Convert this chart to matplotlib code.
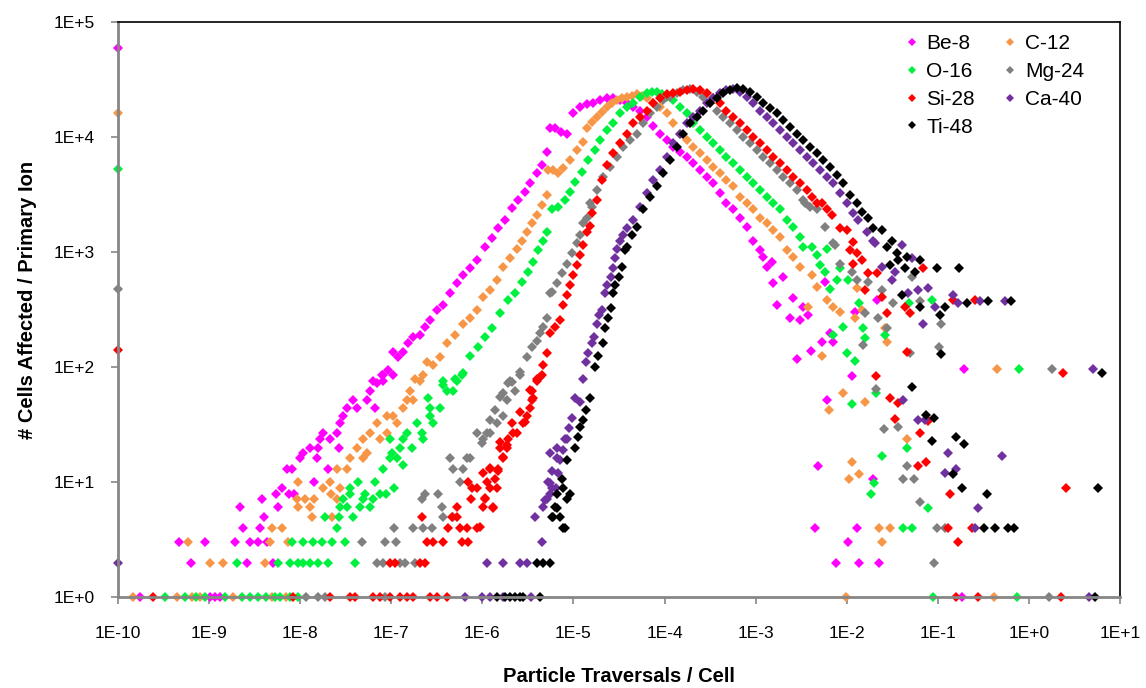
import numpy as np
import matplotlib.pyplot as plt

# values, stored as (log10 traversals, log10 cells)
be8 = [(-10, 4.77),
       (-9.76, 0), (-8.99, 0), (-8.94, 0), (-8.88, 0), (-0.74, 0),
       (-9.20, .30), (-8.58, .30), (-8.30, .30),
       (-9.33, .48), (-9.05, .48), (-8.72, .48), (-8.55, .48), (-8.46, .48), (-8.36, .48),
       (-8.63, .60), (-8.44, .60), (-8.40, .70), (-8.66, .78), (-8.24, .78), (-8.42, .85),
       (-8.27, .90), (-8.12, .90), (-8.07, .90), (-8.20, .95), (-7.85, 1.0),
       (-8.14, 1.11), (-8.09, 1.11), (-7.69, 1.11), (-8.0, 1.21), (-7.82, 1.21), (-7.97, 1.25),
       (-7.89, 1.30), (-7.80, 1.30), (-7.57, 1.30), (-7.78, 1.37), (-7.67, 1.37),
       (-7.75, 1.43), (-7.60, 1.43), (-7.56, 1.51), (-7.53, 1.57),
       (-7.49, 1.64), (-7.38, 1.64), (-7.18, 1.64), (-7.42, 1.71), (-7.27, 1.71),
       (-7.23, 1.79), (-7.20, 1.88), (-7.09, 1.88), (-7.09, 1.93), (-6.98, 1.93),
       (-7.16, 1.86), (-7.10, 1.93), (-7.04, 1.97), (-6.98, 2.13), (-6.93, 2.09), (-6.87, 2.13),
       (-6.82, 2.21), (-6.76, 2.26), (-6.68, 2.28), (-6.63, 2.35), (-6.58, 2.41), (-6.50, 2.50),
       (-6.43, 2.54), (-6.36, 2.64), (-6.28, 2.73), (-6.21, 2.80), (-6.14, 2.86), (-6.06, 2.93),
       (-5.97, 3.04), (-5.89, 3.12), (-5.83, 3.21), (-5.75, 3.28), (-5.68, 3.38), (-5.61, 3.45),
       (-5.53, 3.52), (-5.48, 3.60), (-5.40, 3.69), (-5.35, 3.76), (-5.29, 3.87), (-5.26, 4.08),
       (-5.20, 4.08), (-5.14, 4.04), (-5.07, 4.03), (-5.01, 4.21), (-4.93, 4.26), (-4.85, 4.29),
       (-4.79, 4.30), (-4.71, 4.32), (-4.63, 4.34), (-4.57, 4.34), (-4.49, 4.32), (-4.41, 4.30),
       (-4.35, 4.26), (-4.27, 4.23), (-4.19, 4.17), (-4.13, 4.10), (-4.05, 4.03), (-3.97, 3.97),
       (-3.91, 3.91), (-3.83, 3.87), (-3.75, 3.83), (-3.69, 3.77), (-3.61, 3.71), (-3.53, 3.65),
       (-3.47, 3.60), (-3.39, 3.51), (-3.32, 3.43), (-3.25, 3.37), (-3.17, 3.30), (-3.10, 3.22),
       (-3.03, 3.10), (-2.95, 3.02), (-2.92, 2.96), (-2.88, 2.87), (-2.82, 2.91), (-2.81, 2.73),
       (-2.70, 2.78), (-2.76, 2.54), (-2.59, 2.60), (-2.62, 2.43), (-2.51, 2.41), (-2.43, 2.45),
       (-2.48, 2.52), (-2.24, 2.74), (-1.67, 2.58), (-1.91, 2.48), (-2.18, 2.30), (-2.27, 2.22),
       (-2.15, 2.22), (-2.39, 2.14), (-2.55, 2.07), (-1.94, 1.92), (-2.22, 1.71), (-1.71, 1.03),
       (-2.31, 1.14), (-2.35, .60), (-1.89, .60), (-1.99, .48), (-2.12, .30), (-1.86, .30),
       (-1.65, .30), (-0.71, 1.98)]

c12 = [(-10, 4.21),
       (-9.84, 0), (-9.35, 0), (-9.19, 0), (-9.10, 0), (-8.74, 0), (-8.31, 0), (-8.16, 0),
       (-2.01, 0), (-0.38, 0),
       (-8.99, .30), (-8.85, .30), (-8.39, .30), (-9.23, .48), (-8.33, .48), (-8.13, .48),
       (-8.31, .60), (-8.20, .60), (-7.87, .70), (-7.65, .70), (-8.02, .78), (-7.89, .78),
       (-8.04, .85), (-7.95, .85), (-7.85, .85), (-7.60, .85), (-7.66, .90), (-7.75, .95),
       (-7.56, .95), (-8.02, 1.0), (-7.67, 1.0), (-7.60, 1.11), (-7.49, 1.11), (-7.45, 1.21),
       (-7.31, 1.21), (-7.27, 1.25), (-7.38, 1.30), (-7.31, 1.37), (-7.12, 1.37), (-7.23, 1.43),
       (-7.05, 1.43), (-7.16, 1.51), (-6.94, 1.51), (-7.05, 1.57), (-6.98, 1.57), (-6.87, 1.64),
       (-6.83, 1.71), (-6.76, 1.71), (-6.79, 1.79), (-6.68, 1.88), (-6.65, 1.93),
       (-6.74, 1.90), (-6.61, 2.04), (-6.54, 2.02), (-6.47, 2.09), (-6.39, 2.21), (-6.30, 2.28),
       (-6.21, 2.37), (-6.14, 2.43), (-6.06, 2.50), (-5.99, 2.61), (-5.92, 2.67), (-5.84, 2.76),
       (-5.77, 2.87), (-5.70, 2.95), (-5.62, 3.03), (-5.57, 3.10), (-5.51, 3.17), (-5.46, 3.25),
       (-5.40, 3.32), (-5.35, 3.41), (-5.29, 3.50), (-5.28, 3.71), (-5.22, 3.71), (-5.17, 3.69),
       (-5.12, 3.73), (-5.04, 3.80), (-4.96, 3.89), (-4.90, 3.96), (-4.85, 4.08), (-4.80, 4.13),
       (-4.74, 4.17), (-4.69, 4.22), (-4.63, 4.26), (-4.58, 4.30), (-4.52, 4.32), (-4.47, 4.34),
       (-4.41, 4.35), (-4.36, 4.36), (-4.30, 4.37), (-4.25, 4.36), (-4.19, 4.34), (-4.13, 4.30),
       (-4.05, 4.26), (-3.97, 4.21), (-3.91, 4.12), (-3.83, 4.03), (-3.75, 3.97), (-3.69, 3.91),
       (-3.61, 3.86), (-3.53, 3.80), (-3.47, 3.74), (-3.39, 3.69), (-3.32, 3.63), (-3.25, 3.57),
       (-3.17, 3.48), (-3.10, 3.43), (-3.03, 3.37), (-2.95, 3.30), (-2.88, 3.25), (-2.81, 3.19),
       (-2.73, 3.13), (-2.66, 3.02), (-2.59, 2.96), (-2.51, 2.87), (-2.38, 2.80), (-2.33, 2.70),
       (-2.22, 2.58), (-2.15, 2.52), (-2.07, 2.48), (-2.43, 2.52), (-1.89, 2.69), (-1.91, 2.43),
       (-1.83, 2.50), (-1.56, 2.22), (-1.58, 2.34), (-2.27, 2.10), (-2.04, 1.77), (-1.80, 1.70),
       (-2.20, 1.63), (-1.34, 1.37), (-1.94, 1.17), (-1.86, 1.07), (-1.98, 1.03), (-1.65, .60),
       (-1.53, .60), (-1.61, .48), (-0.35, 1.98)]

o16 = [(-10, 3.72),
       (-9.48, 0), (-9.26, 0), (-9.14, 0), (-9.05, 0), (-8.83, 0), (-8.64, 0), (-8.55, 0),
       (-8.46, 0), (-8.37, 0), (-8.28, 0), (-8.22, 0), (-8.11, 0), (-8.02, 0), (-1.05, 0), (-0.13, 0),
       (-8.69, .30), (-8.24, .30), (-8.11, .30), (-8.02, .30), (-7.97, .30), (-7.89, .30),
       (-7.80, .30), (-7.69, .30), (-7.40, .30),
       (-8.09, .48), (-7.97, .48), (-7.86, .48), (-7.76, .48), (-7.65, .48), (-7.51, .48),
       (-7.60, .60), (-1.38, .60), (-1.28, .60), (-7.73, .70), (-7.57, .70), (-7.42, .70),
       (-7.56, .78), (-7.49, .78), (-7.34, .78), (-7.23, .78), (-7.53, .85), (-7.31, .85),
       (-7.20, .85), (-7.45, .90), (-7.29, .90), (-7.12, .90), (-7.06, .90), (-7.45, .95),
       (-6.97, .95), (-7.37, 1.0), (-7.18, 1.0), (-7.09, 1.11), (-6.87, 1.15), (-7.01, 1.21),
       (-6.94, 1.21), (-6.99, 1.25), (-6.90, 1.30), (-6.77, 1.30), (-7.01, 1.37), (-6.87, 1.37),
       (-6.65, 1.37), (-6.83, 1.43), (-6.66, 1.43), (-6.72, 1.51), (-6.54, 1.51), (-6.58, 1.57),
       (-6.58, 1.64), (-6.47, 1.64), (-6.39, 1.79), (-6.32, 1.79), (-6.43, 1.88), (-6.28, 1.88),
       (-6.22, 1.93),
       (-6.60, 1.73), (-6.43, 1.84), (-6.30, 1.90), (-6.21, 1.95), (-6.14, 2.10), (-6.05, 2.17),
       (-5.97, 2.26), (-5.89, 2.34), (-5.81, 2.47), (-5.72, 2.58), (-5.64, 2.64), (-5.57, 2.74),
       (-5.50, 2.83), (-5.44, 2.91), (-5.39, 3.02), (-5.33, 3.10), (-5.29, 3.17), (-5.24, 3.37),
       (-5.17, 3.39), (-5.09, 3.45), (-5.04, 3.52), (-4.98, 3.61), (-4.91, 3.70), (-4.84, 3.80),
       (-4.76, 3.89), (-4.71, 3.97), (-4.63, 4.06), (-4.57, 4.12), (-4.49, 4.21), (-4.41, 4.26),
       (-4.35, 4.30), (-4.27, 4.35), (-4.19, 4.38), (-4.14, 4.39), (-4.08, 4.39), (-4.03, 4.37),
       (-3.97, 4.35), (-3.91, 4.32), (-3.83, 4.26), (-3.75, 4.21), (-3.69, 4.12), (-3.61, 4.06),
       (-3.53, 4.00), (-3.47, 3.95), (-3.39, 3.89), (-3.32, 3.83), (-3.25, 3.77), (-3.17, 3.71),
       (-3.10, 3.65), (-3.03, 3.60), (-2.95, 3.54), (-2.88, 3.48), (-2.81, 3.43), (-2.73, 3.37),
       (-2.66, 3.28), (-2.59, 3.22), (-2.51, 3.13), (-2.48, 3.04), (-2.38, 3.04), (-2.33, 2.97),
       (-2.29, 2.89), (-2.24, 2.83), (-2.22, 3.03), (-2.18, 2.68), (-2.11, 2.76), (-1.99, 2.76),
       (-2.07, 2.86), (-1.86, 2.56), (-2.04, 2.35), (-1.82, 2.34), (-1.80, 2.25), (-1.58, 2.28),
       (-2.15, 2.28), (-2.00, 2.12), (-1.91, 2.05), (-1.32, 2.56), (-1.06, 2.58), (-0.11, 1.98),
       (-1.94, 1.68), (-1.68, 1.77), (-1.34, 1.30), (-1.61, 1.23), (-1.70, .99), (-1.73, .90),
       (-1.11, .77)]

mg24 = [(-10, 2.68),
        (-7.94, 0), (-7.80, 0), (-7.73, 0), (-7.07, 0), (0.22, 0),
        (-7.16, .30), (-7.09, .30), (-6.90, .30), (-6.85, .30), (-6.74, .30), (-1.04, .30),
        (-7.32, .48), (-7.07, .48), (-6.95, .48),
        (-6.97, .60), (-6.76, .60), (-6.65, .60), (-6.55, .60), (-1.01, .60), (-0.92, .60),
        (-6.43, .70), (-6.32, .70), (-6.44, .78), (-6.66, .85), (-6.63, .90), (-6.49, .90),
        (-6.25, 1.0), (-6.32, 1.11), (-6.21, 1.11), (-6.36, 1.21), (-6.17, 1.21), (-6.14, 1.21),
        (-5.99, 1.37), (-6.06, 1.43), (-5.92, 1.43), (-5.84, 1.51), (-5.77, 1.57), (-5.73, 1.71),
        (-5.64, 1.79), (-5.70, 1.88), (-5.59, 1.93),
        (-6.00, 1.34), (-5.95, 1.43), (-5.92, 1.54), (-5.86, 1.63), (-5.81, 1.74), (-5.77, 1.77),
        (-5.72, 1.86), (-5.68, 1.87), (-5.59, 1.96), (-5.51, 2.09), (-5.46, 2.17), (-5.40, 2.23),
        (-5.37, 2.30), (-5.33, 2.35), (-5.29, 2.43), (-5.26, 2.64), (-5.24, 2.65), (-5.18, 2.73),
        (-5.13, 2.82), (-5.07, 2.90), (-5.02, 2.99), (-4.96, 3.08), (-4.93, 3.15), (-4.90, 3.25),
        (-4.85, 3.30), (-4.82, 3.43), (-4.80, 3.39), (-4.74, 3.54), (-4.68, 3.65), (-4.60, 3.74),
        (-4.52, 3.83), (-4.46, 3.91), (-4.38, 3.97), (-4.30, 4.03), (-4.24, 4.12), (-4.16, 4.21),
        (-4.08, 4.26), (-4.02, 4.32), (-3.94, 4.35), (-3.86, 4.38), (-3.80, 4.41), (-3.72, 4.42),
        (-3.64, 4.39), (-3.58, 4.35), (-3.50, 4.30), (-3.42, 4.23), (-3.36, 4.17), (-3.28, 4.12),
        (-3.21, 4.06), (-3.14, 4.00), (-3.06, 3.95), (-2.99, 3.89), (-2.92, 3.83), (-2.84, 3.77),
        (-2.77, 3.71), (-2.70, 3.65), (-2.62, 3.60), (-2.55, 3.54), (-2.48, 3.45), (-2.46, 3.43),
        (-2.40, 3.39), (-2.33, 3.37), (-2.24, 3.22), (-2.15, 3.08), (-2.13, 3.06), (-2.07, 2.90),
        (-1.94, 2.83), (-1.89, 2.76), (-1.77, 2.74), (-1.61, 2.67), (-1.49, 2.56), (-1.80, 2.47),
        (-1.66, 2.43), (-1.56, 2.34), (-1.28, 2.78), (-1.20, 2.57), (-0.96, 2.37), (-0.99, 2.17),
        (-1.31, 2.12), (-1.82, 2.19), (-1.68, 1.81), (-1.59, 1.46), (-1.44, 1.48), (-1.34, 1.14),
        (-1.38, 1.03), (-1.26, 1.03), (-1.20, .83), (0.25, 1.98)]

si28 = [(-10, 2.15),
        (-9.62, 0), (-8.08, 0), (-7.67, 0), (-7.45, 0), (-7.40, 0), (-7.20, 0), (-7.12, 0),
        (-7.01, 0), (-6.90, 0), (-6.83, 0), (-6.76, 0), (-6.58, 0), (-6.50, 0), (-6.39, 0),
        (-0.80, 0), (-0.56, 0), (0.35, 0),
        (-7.01, .30), (-6.96, .30), (-6.68, .30), (-6.63, .30),
        (-6.61, .48), (-6.54, .48), (-6.43, .48), (-6.22, .48), (-6.16, .48), (-0.78, .48),
        (-6.38, .60), (-6.25, .60), (-6.17, .60), (-6.06, .60), (-0.89, .60), (-0.63, .60),
        (-6.66, .70), (-6.33, .70), (-6.28, .70), (-6.28, .78), (-5.99, .78), (-5.88, .78),
        (-6.12, .85), (-5.97, .85), (-6.11, .95), (-6.06, .95), (-5.92, .95), (-5.84, .95),
        (-6.16, 1.0), (-5.95, 1.0), (-5.92, 1.11), (-5.83, 1.11), (-5.77, 1.21), (-5.81, 1.30),
        (-5.73, 1.30), (-5.72, 1.37), (-5.62, 1.43), (-5.55, 1.51), (-5.51, 1.57), (-5.48, 1.64),
        (-5.45, 1.71), (-5.46, 1.79), (-5.40, 1.88), (-5.35, 1.93),
        (-6.03, .61), (-5.97, .86), (-5.88, .77), (-5.99, 1.08), (-5.92, 1.12), (-5.83, 1.10),
        (-5.86, 1.03), (-5.77, 1.22), (-5.81, 1.35), (-5.73, 1.32), (-5.68, 1.51), (-5.66, 1.43),
        (-5.59, 1.61), (-5.53, 1.52), (-5.48, 1.80), (-5.44, 1.73), (-5.40, 1.90), (-5.37, 1.91),
        (-5.33, 2.02), (-5.29, 2.12), (-5.26, 2.30), (-5.20, 2.35), (-5.15, 2.41), (-5.12, 2.54),
        (-5.07, 2.63), (-5.04, 2.71), (-5.01, 2.80), (-4.96, 2.89), (-4.93, 2.97), (-4.90, 3.06),
        (-4.85, 3.17), (-4.82, 3.23), (-4.80, 3.34), (-4.74, 3.45), (-4.69, 3.63), (-4.63, 3.76),
        (-4.57, 3.86), (-4.49, 3.95), (-4.41, 4.03), (-4.35, 4.12), (-4.27, 4.17), (-4.19, 4.23),
        (-4.13, 4.30), (-4.05, 4.34), (-3.97, 4.37), (-3.91, 4.38), (-3.83, 4.39), (-3.75, 4.41),
        (-3.69, 4.42), (-3.61, 4.41), (-3.53, 4.38), (-3.47, 4.34), (-3.39, 4.30), (-3.32, 4.23),
        (-3.25, 4.17), (-3.17, 4.12), (-3.10, 4.06), (-3.03, 4.00), (-2.95, 3.95), (-2.88, 3.89),
        (-2.81, 3.83), (-2.73, 3.77), (-2.66, 3.71), (-2.59, 3.65), (-2.51, 3.60), (-2.44, 3.54),
        (-2.38, 3.48), (-2.33, 3.43), (-2.27, 3.43), (-2.22, 3.37), (-2.16, 3.32), (-2.07, 3.21),
        (-2.00, 3.19), (-1.93, 3.09), (-1.89, 2.99), (-1.96, 3.02), (-1.83, 2.93), (-1.93, 2.90),
        (-1.77, 2.82), (-1.67, 2.82), (-1.61, 2.61), (-1.80, 2.67), (-1.56, 2.47), (-1.36, 2.52),
        (-1.31, 2.47), (-1.16, 2.86), (-0.83, 2.58), (-0.59, 2.58), (-1.34, 2.13), (-1.68, 1.92),
        (-1.53, 1.73), (-1.44, 1.69), (-1.47, 1.55), (-1.20, 1.43), (-1.11, 1.53), (-1.22, 1.14),
        (-1.13, 1.17), (-0.87, .90), (0.37, 1.95), (0.41, .95)]

ca40 = [(-10, .30),
        (-6.19, 0), (-6.00, 0), (-5.92, 0), (-5.77, 0), (-5.47, 0), (0.66, 0),
        (-5.95, .30), (-5.77, .30), (-5.59, .30), (-5.51, .30),
        (-5.35, .48), (-5.42, .70), (-5.33, .78), (-5.29, .85), (-5.26, .90), (-5.24, .95),
        (-5.28, 1.0), (-5.18, 1.21), (-5.26, 1.25), (-5.18, 1.30), (-5.09, 1.37),
        (-5.31, .84), (-5.26, .99), (-5.19, .95), (-5.24, 1.10), (-5.17, 1.08), (-5.15, 1.19),
        (-5.12, 1.28), (-5.07, 1.37), (-5.05, 1.47), (-5.02, 1.56), (-4.98, 1.73), (-4.93, 1.70),
        (-4.90, 1.90), (-4.86, 2.04), (-4.84, 2.12), (-4.80, 2.21), (-4.77, 2.26), (-4.74, 2.37),
        (-4.72, 2.45), (-4.69, 2.50), (-4.65, 2.64), (-4.63, 2.71), (-4.59, 2.78), (-4.57, 2.86),
        (-4.54, 2.95), (-4.52, 3.03), (-4.49, 3.10), (-4.46, 3.15), (-4.41, 3.21), (-4.35, 3.28),
        (-4.27, 3.39), (-4.19, 3.51), (-4.13, 3.63), (-4.05, 3.71), (-3.97, 3.83), (-3.91, 3.95),
        (-3.83, 4.03), (-3.75, 4.12), (-3.69, 4.17), (-3.61, 4.23), (-3.53, 4.30), (-3.47, 4.34),
        (-3.39, 4.38), (-3.32, 4.41), (-3.25, 4.42), (-3.17, 4.39), (-3.10, 4.35), (-3.03, 4.30),
        (-2.95, 4.23), (-2.88, 4.17), (-2.81, 4.12), (-2.73, 4.06), (-2.66, 4.00), (-2.59, 3.95),
        (-2.51, 3.89), (-2.44, 3.83), (-2.37, 3.77), (-2.29, 3.71), (-2.22, 3.65), (-2.15, 3.60),
        (-2.07, 3.51), (-2.00, 3.43), (-1.93, 3.34), (-1.88, 3.28), (-1.78, 3.17), (-1.71, 3.10),
        (-1.69, 3.08), (-1.39, 3.06), (-1.61, 2.87), (-1.47, 2.83), (-1.50, 2.76), (-1.28, 2.95),
        (-1.33, 2.64), (-1.22, 2.67), (-1.11, 2.69), (-1.03, 2.52), (-0.83, 2.63), (-0.78, 2.56),
        (-0.54, 2.57), (-0.26, 2.57), (-1.16, 2.37), (-1.38, 1.71), (-1.22, 1.54), (-1.14, 1.54),
        (-0.89, 1.25), (-0.29, 1.23), (-0.92, 1.08), (-0.80, 1.11), (-0.56, .77), (-0.59, .60),
        (0.70, 1.98)]

ti48 = [(-5.84, 0), (-5.75, 0), (-5.70, 0), (-5.64, 0), (-5.59, 0), (-5.55, 0), (-5.37, 0), (0.73, 0),
        (-5.40, .30), (-5.33, .30), (-5.26, .30), (-5.12, .60), (-5.22, .70), (-5.15, .70),
        (-5.20, .78), (-5.07, .85), (-5.18, .90), (-5.12, .95),
        (-5.09, .60), (-5.18, .77), (-5.24, .70), (-5.04, .90), (-5.13, 1.03), (-5.07, 1.19),
        (-4.98, 1.30), (-4.95, 1.39), (-4.93, 1.48), (-4.90, 1.54), (-4.86, 1.63), (-4.82, 1.73),
        (-4.76, 2.00), (-4.73, 2.10), (-4.68, 2.21), (-4.65, 2.34), (-4.62, 2.43), (-4.59, 2.51),
        (-4.57, 2.64), (-4.54, 2.71), (-4.50, 2.78), (-4.47, 2.87), (-4.43, 3.02), (-4.41, 3.04),
        (-4.36, 3.15), (-4.30, 3.22), (-4.24, 3.37), (-4.16, 3.48), (-4.08, 3.57), (-4.02, 3.69),
        (-3.94, 3.80), (-3.86, 3.91), (-3.80, 4.03), (-3.72, 4.12), (-3.64, 4.17), (-3.58, 4.23),
        (-3.50, 4.30), (-3.42, 4.34), (-3.36, 4.38), (-3.28, 4.41), (-3.21, 4.43), (-3.14, 4.42),
        (-3.06, 4.39), (-2.99, 4.35), (-2.92, 4.30), (-2.84, 4.25), (-2.77, 4.21), (-2.70, 4.15),
        (-2.62, 4.09), (-2.55, 4.03), (-2.48, 3.97), (-2.40, 3.91), (-2.33, 3.86), (-2.26, 3.80),
        (-2.18, 3.74), (-2.11, 3.67), (-2.04, 3.60), (-1.96, 3.50), (-1.89, 3.43), (-1.83, 3.35),
        (-1.77, 3.30), (-1.71, 3.21), (-1.61, 3.19), (-1.50, 3.10), (-1.56, 3.04), (-1.45, 2.99),
        (-1.34, 2.96), (-1.44, 2.93), (-1.20, 2.93), (-1.53, 2.89), (-1.36, 2.86), (-1.25, 2.83),
        (-1.01, 2.86), (-0.77, 2.86), (-1.39, 2.63), (-1.20, 2.52), (-0.92, 2.52), (-0.98, 2.45),
        (-0.68, 2.56), (-0.45, 2.57), (-0.20, 2.57), (-0.96, 2.11), (-1.28, 1.83), (-1.13, 1.58),
        (-1.04, 1.56), (-1.06, 1.36), (-0.80, 1.39), (-0.71, 1.33), (-0.83, 1.07), (-0.74, .95),
        (-0.46, .90), (-0.49, .60), (-0.37, .60), (-0.23, .60), (-0.16, .60), (0.80, 1.95), (0.76, .95)]

series = ["Be-8", "C-12", "O-16", "Mg-24", "Si-28", "Ca-40", "Ti-48"]
colors = ["#FF00FF", "#F79646", "#00F040", "#808080", "#FF0000", "#7030A0", "#000000"]
data = [be8, c12, o16, mg24, si28, ca40, ti48]

x_ticks = ["1E-10", "1E-9", "1E-8", "1E-7", "1E-6", "1E-5", "1E-4", "1E-3", "1E-2", "1E-1", "1E+0", "1E+1"]
y_ticks = ["1E+0", "1E+1", "1E+2", "1E+3", "1E+4", "1E+5"]

plt.rcParams['font.family'] = ['Liberation Sans', 'DejaVu Sans']

fig = plt.figure(figsize=(11.46, 6.88), dpi=100)
ax = fig.add_axes([118/1146, 1-597/688, (1120-118)/1146, (597-22)/688])

handles = {}
for name, col, pts in zip(series, colors, data):
    arr = np.array(pts, dtype=float)
    h, = ax.plot(10**arr[:, 0], 10**arr[:, 1], 'D', color=col, ms=5.6, mew=0,
                 clip_on=False, label=name)
    handles[name] = h

ax.set_xscale('log')
ax.set_yscale('log')
ax.set_xlim(1e-10, 10)
ax.set_ylim(1, 1e5)
ax.set_xticks([10.0**k for k in range(-10, 2)])
ax.set_xticklabels(x_ticks)
ax.set_yticks([10.0**k for k in range(0, 6)])
ax.set_yticklabels(y_ticks)
ax.minorticks_off()
ax.tick_params(axis='x', length=5, width=1.2, color='#868686', pad=16, labelsize=12.5)
ax.tick_params(axis='y', length=5, width=1.2, color='#868686', pad=12, labelsize=12.5)

for s in ['left', 'bottom']:
    ax.spines[s].set_color('#868686')
    ax.spines[s].set_linewidth(2)
for s in ['top', 'right']:
    ax.spines[s].set_color('black')
    ax.spines[s].set_linewidth(1.2)

fig.text(28/1146, 1-300/688, "# Cells Affected / Primary Ion", rotation=90,
         ha='center', va='center', fontsize=14.5, fontweight='bold')
fig.text(619/1146, 1-676/688, "Particle Traversals / Cell",
         ha='center', va='center', fontsize=14.5, fontweight='bold')

order = ["Be-8", "O-16", "Si-28", "Ti-48", "C-12", "Mg-24", "Ca-40"]
leg = fig.legend([handles[n] for n in order], order, loc='upper left',
                 bbox_to_anchor=(893/1146, 1-24/688), ncol=2, frameon=False,
                 fontsize=15, handlelength=0.8, handletextpad=0.3,
                 columnspacing=1.3, labelspacing=0.42, borderpad=0, markerscale=0.75)

fig.savefig("out.png", dpi=100)
